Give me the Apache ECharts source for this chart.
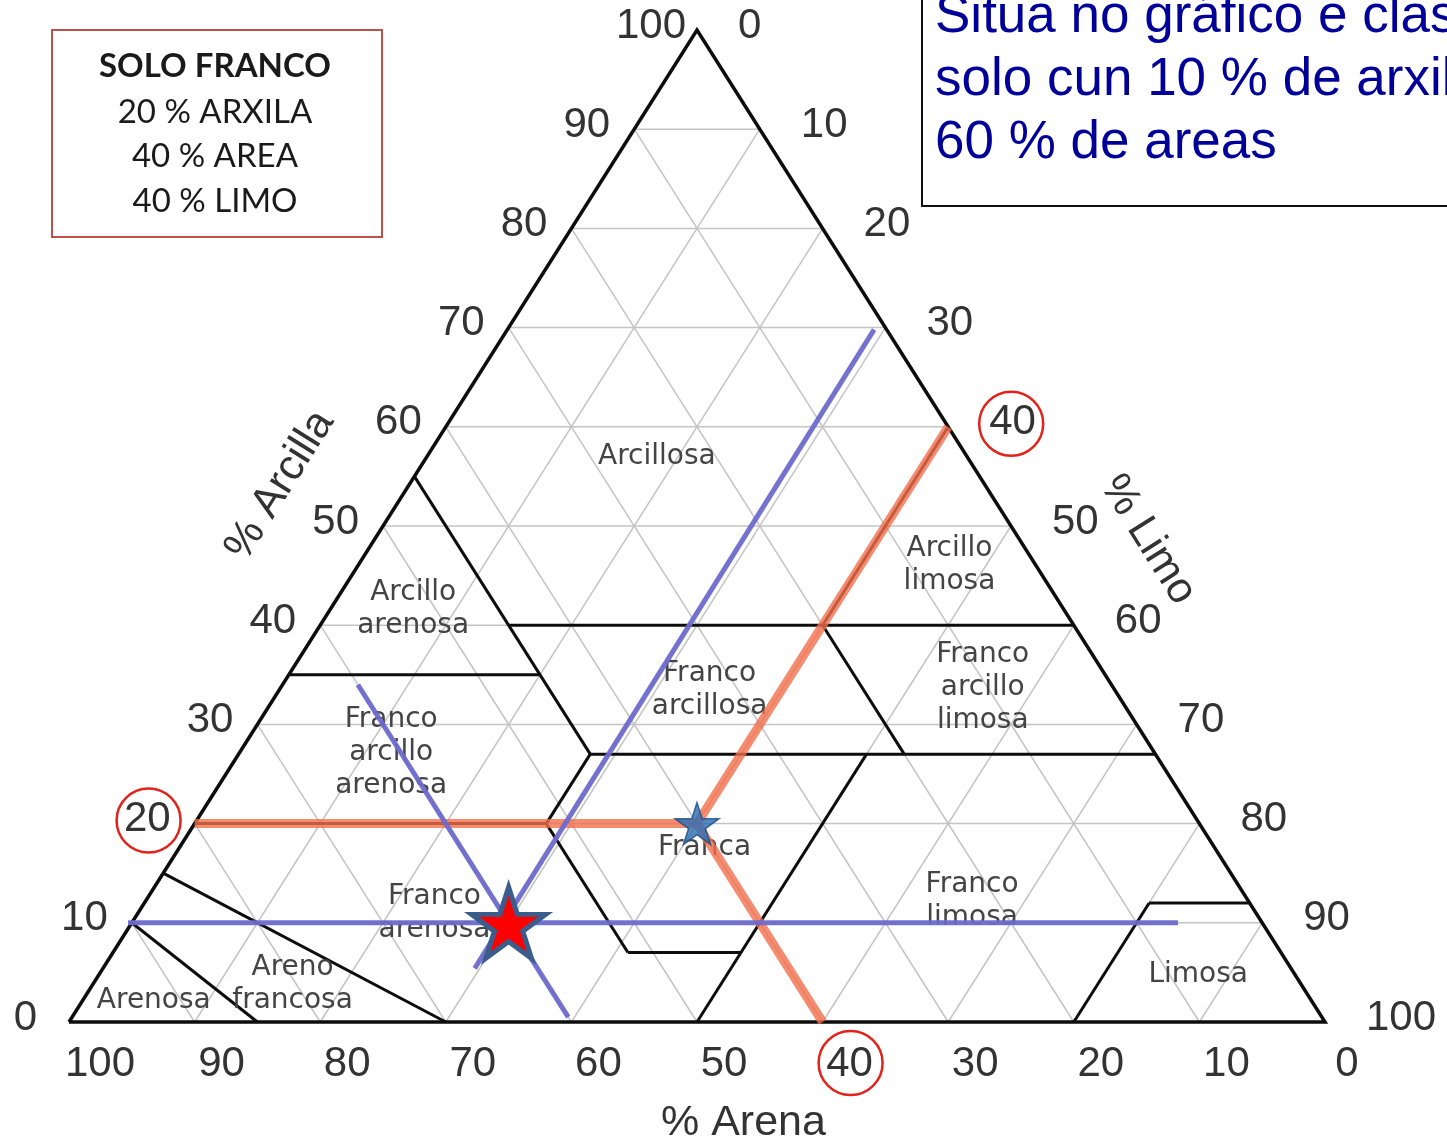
<!DOCTYPE html>
<html><head><meta charset="utf-8">
<script src="https://cdn.jsdelivr.net/npm/echarts@6/dist/echarts.min.js"></script>
<style>html,body{margin:0;padding:0;background:#fff}#c{width:1447px;height:1145px}</style>
</head><body><div id="c"></div>
<script>
// All compositions are [sand %, clay %]; silt = 100 - sand - clay
const gridSteps = [10, 20, 30, 40, 50, 60, 70, 80, 90];
const triangle = [[100, 0], [0, 0], [0, 100]];
const boundaries = [
  [[45, 40], [0, 40]],
  [[45, 55], [45, 27]],
  [[65, 35], [45, 35]],
  [[45, 27], [0, 27]],
  [[20, 40], [0, 60]],
  [[20, 40], [20, 27]],
  [[80, 20], [52, 20]],
  [[52, 20], [45, 27]],
  [[52, 20], [52, 7]],
  [[52, 7], [43, 7]],
  [[50, 0], [23, 27]],
  [[20, 0], [8, 12]],
  [[8, 12], [0, 12]],
  [[85, 0], [90, 10]],
  [[70, 0], [85, 15]]
];
const classNames = ['Arcillosa', 'Arcillo\nlimosa', 'Arcillo\narenosa', 'Franco\narcillosa',
  'Franco\narcillo\nlimosa', 'Franco\narcillo\narenosa', 'Franca', 'Franco\narenosa',
  'Franco\nlimosa', 'Limosa', 'Areno\nfrancosa', 'Arenosa'];
const classPos = [[24.7, 57], [6.9, 46], [51.8, 41.6], [32.3, 33.4], [10.4, 33.7], [60.8, 27.1],
  [40.6, 17.6], [65.4, 11], [22, 12.2], [7.7, 4.8], [80.3, 3.8], [92.2, 2.1]];
const clayTicks = [0, 10, 20, 30, 40, 50, 60, 70, 80, 90, 100];
const siltTicks = [0, 10, 20, 30, 40, 50, 60, 70, 80, 90, 100];
const sandTicks = [100, 90, 80, 70, 60, 50, 40, 30, 20, 10, 0];
const circledClay = [20], circledSilt = [40], circledSand = [40];
const soilFranco = [40, 20];      // 40 % sand, 20 % clay, 40 % silt
const soilQuestion = [60, 10];    // 60 % sand, 10 % clay
const orangeLines = [[[80, 20], [40, 20]], [[40, 20], [0, 60]], [[40, 20], [40, 0]]];
const blueLines = [[[90.3, 10], [6.7, 10]], [[65, 5.4], [1, 69.8]], [[60, 34], [60, 0.5]]];
const axisTitles = ['% Arcilla', '% Limo', '% Arena'];
const legendLines = ['SOLO FRANCO', '20 % ARXILA', '40 % AREA', '40 % LIMO'];
const questionLines = ['Situa no gráfico e clasifica un', 'solo cun 10 % de arxila e', '60 % de areas'];

function toXY(p) { return [100 - p[0] - p[1] / 2, p[1]]; }

function gridSegments() {
  const segs = [];
  gridSteps.forEach(t => {
    segs.push([[100 - t, t], [0, t]]);       // constant clay
    segs.push([[t, 0], [t, 100 - t]]);       // constant sand
    segs.push([[100 - t, 0], [0, 100 - t]]); // constant silt
  });
  return segs;
}

function segSeries(segs, style, z) {
  return {
    type: 'custom', coordinateSystem: 'cartesian2d', z: z, silent: true, clip: false,
    data: segs.map(s => s.map(toXY).flat()),
    renderItem: (params, api) => {
      const n = segs[params.dataIndex].length;
      const pts = [];
      for (let i = 0; i < n; i++) pts.push(api.coord([api.value(2 * i), api.value(2 * i + 1)]));
      if (n > 2) pts.push(pts[0]);
      return { type: 'polyline', shape: { points: pts }, style: Object.assign({ fill: null }, style) };
    }
  };
}

function textSeries(points, texts, opts, z) {
  return {
    type: 'custom', coordinateSystem: 'cartesian2d', z: z, silent: true, clip: false,
    data: points,
    renderItem: (params, api) => {
      const i = params.dataIndex;
      const p = api.coord([api.value(0), api.value(1)]);
      const dx = typeof opts.dx === 'function' ? opts.dx(i) : (opts.dx || 0);
      const dy = opts.dy || 0;
      return {
        type: 'text', x: p[0] + dx, y: p[1] + dy, rotation: opts.rot ? opts.rot[i] : 0,
        style: { text: texts[i], font: opts.font, fill: opts.fill, align: opts.align || 'center',
          verticalAlign: 'middle', lineHeight: opts.lineHeight }
      };
    }
  };
}

function circleSeries(points, dx, dy, z) {
  return {
    type: 'custom', coordinateSystem: 'cartesian2d', z: z, silent: true, clip: false,
    data: points,
    renderItem: (params, api) => {
      const p = api.coord([api.value(0), api.value(1)]);
      return { type: 'circle', shape: { cx: p[0] + dx, cy: p[1] + dy, r: 32 },
        style: { fill: null, stroke: '#e2231a', lineWidth: 2.5 } };
    }
  };
}

const starPath = 'path://M50 0 L61.23 34.55 L97.55 34.55 L68.17 55.9 L79.39 90.45 L50 69.1 L20.61 90.45 L31.83 55.9 L2.45 34.55 L38.77 34.55 Z';

const tickFont = '42px "Liberation Sans", Arial, sans-serif';
const leftPts = clayTicks.map(c => toXY([100 - c, c]));
const rightPts = siltTicks.map(l => toXY([0, 100 - l]));
const bottomPts = sandTicks.map(s => toXY([s, 0]));
const leftDx = i => clayTicks[i] === 0 ? -32 : (clayTicks[i] === 100 ? -11 : -24);
const bottomDx = i => sandTicks[i] === 100 ? 31 : (sandTicks[i] === 0 ? 22 : 27);

const titlePos = [[16.8, 54.1], [85.9, 48.6], [53.7, -10.2]];
const rotA = Math.atan2(992, 625);
const legendFont = '33px Lato, "Open Sans", sans-serif';

const chart = echarts.init(document.getElementById('c'));
chart.setOption({
  animation: false,
  backgroundColor: '#fff',
  grid: { left: 69, top: 30, width: 1256, height: 992, containLabel: false },
  xAxis: { type: 'value', min: 0, max: 100, show: false },
  yAxis: { type: 'value', min: 0, max: 100, show: false },
  series: [
    segSeries(gridSegments(), { stroke: '#c4c4c4', lineWidth: 1.5 }, 1),
    segSeries(boundaries, { stroke: '#0d0d0d', lineWidth: 3 }, 2),
    segSeries([triangle], { stroke: '#0d0d0d', lineWidth: 3.5, lineJoin: 'miter' }, 3),
    textSeries(classPos.map(toXY), classNames,
      { font: '28px "DejaVu Sans", sans-serif', fill: '#444', lineHeight: 33 }, 4),
    segSeries(orangeLines, { stroke: 'rgba(243,110,75,0.8)', lineWidth: 9, lineCap: 'butt' }, 5),
    {
      type: 'scatter', z: 6, silent: true, symbol: starPath, symbolSize: [44, 42],
      data: [toXY(soilFranco)],
      itemStyle: { color: '#2e6fb4', borderColor: '#1f4e80', borderWidth: 1.5, opacity: 0.82 }
    },
    segSeries(blueLines, { stroke: 'rgba(108,108,204,0.95)', lineWidth: 5, lineCap: 'butt' }, 7),
    {
      type: 'scatter', z: 8, silent: true, symbol: starPath, symbolSize: [74, 71],
      data: [toXY(soilQuestion)],
      itemStyle: { color: '#ff0000', borderColor: '#3a5d8c', borderWidth: 5, opacity: 1 }
    },
    textSeries(leftPts, clayTicks.map(String), { font: tickFont, fill: '#333', align: 'right', dx: leftDx, dy: -4 }, 9),
    textSeries(rightPts, siltTicks.map(String), { font: tickFont, fill: '#333', align: 'left', dx: 41, dy: -4 }, 9),
    textSeries(bottomPts, sandTicks.map(String), { font: tickFont, fill: '#333', align: 'center', dx: bottomDx, dy: 42 }, 9),
    textSeries(titlePos, axisTitles, { font: '43px "Liberation Sans", Arial, sans-serif', fill: '#333', rot: [rotA, -rotA, 0] }, 9),
    circleSeries(circledClay.map(c => toXY([100 - c, c])), -46, -3, 10),
    circleSeries(circledSilt.map(l => toXY([0, 100 - l])), 63, -3, 10),
    circleSeries(circledSand.map(s => toXY([s, 0])), 28, 41, 10)
  ],
  graphic: [
    { type: 'rect', shape: { x: 52, y: 30, width: 330, height: 207 }, style: { fill: '#fff', stroke: '#c0504d', lineWidth: 2 }, z: 20 },
    { type: 'text', x: 215, y: 66, style: { text: legendLines[0], font: 'bold ' + legendFont, fill: '#1a1a1a', align: 'center', verticalAlign: 'middle' }, z: 21 },
    { type: 'text', x: 215, y: 112, style: { text: legendLines[1], font: legendFont, fill: '#1a1a1a', align: 'center', verticalAlign: 'middle' }, z: 21 },
    { type: 'text', x: 215, y: 156, style: { text: legendLines[2], font: legendFont, fill: '#1a1a1a', align: 'center', verticalAlign: 'middle' }, z: 21 },
    { type: 'text', x: 215, y: 201, style: { text: legendLines[3], font: legendFont, fill: '#1a1a1a', align: 'center', verticalAlign: 'middle' }, z: 21 },
    { type: 'rect', shape: { x: 922, y: -10, width: 560, height: 216 }, style: { fill: '#fff', stroke: '#111', lineWidth: 2 }, z: 20 },
    { type: 'text', x: 935, y: 17, style: { text: questionLines[0], font: '53px "Liberation Sans", Arial, sans-serif', fill: '#000099', align: 'left', verticalAlign: 'middle' }, z: 21 },
    { type: 'text', x: 935, y: 80, style: { text: questionLines[1], font: '53px "Liberation Sans", Arial, sans-serif', fill: '#000099', align: 'left', verticalAlign: 'middle' }, z: 21 },
    { type: 'text', x: 935, y: 143, style: { text: questionLines[2], font: '53px "Liberation Sans", Arial, sans-serif', fill: '#000099', align: 'left', verticalAlign: 'middle' }, z: 21 }
  ]
});
</script></body></html>
